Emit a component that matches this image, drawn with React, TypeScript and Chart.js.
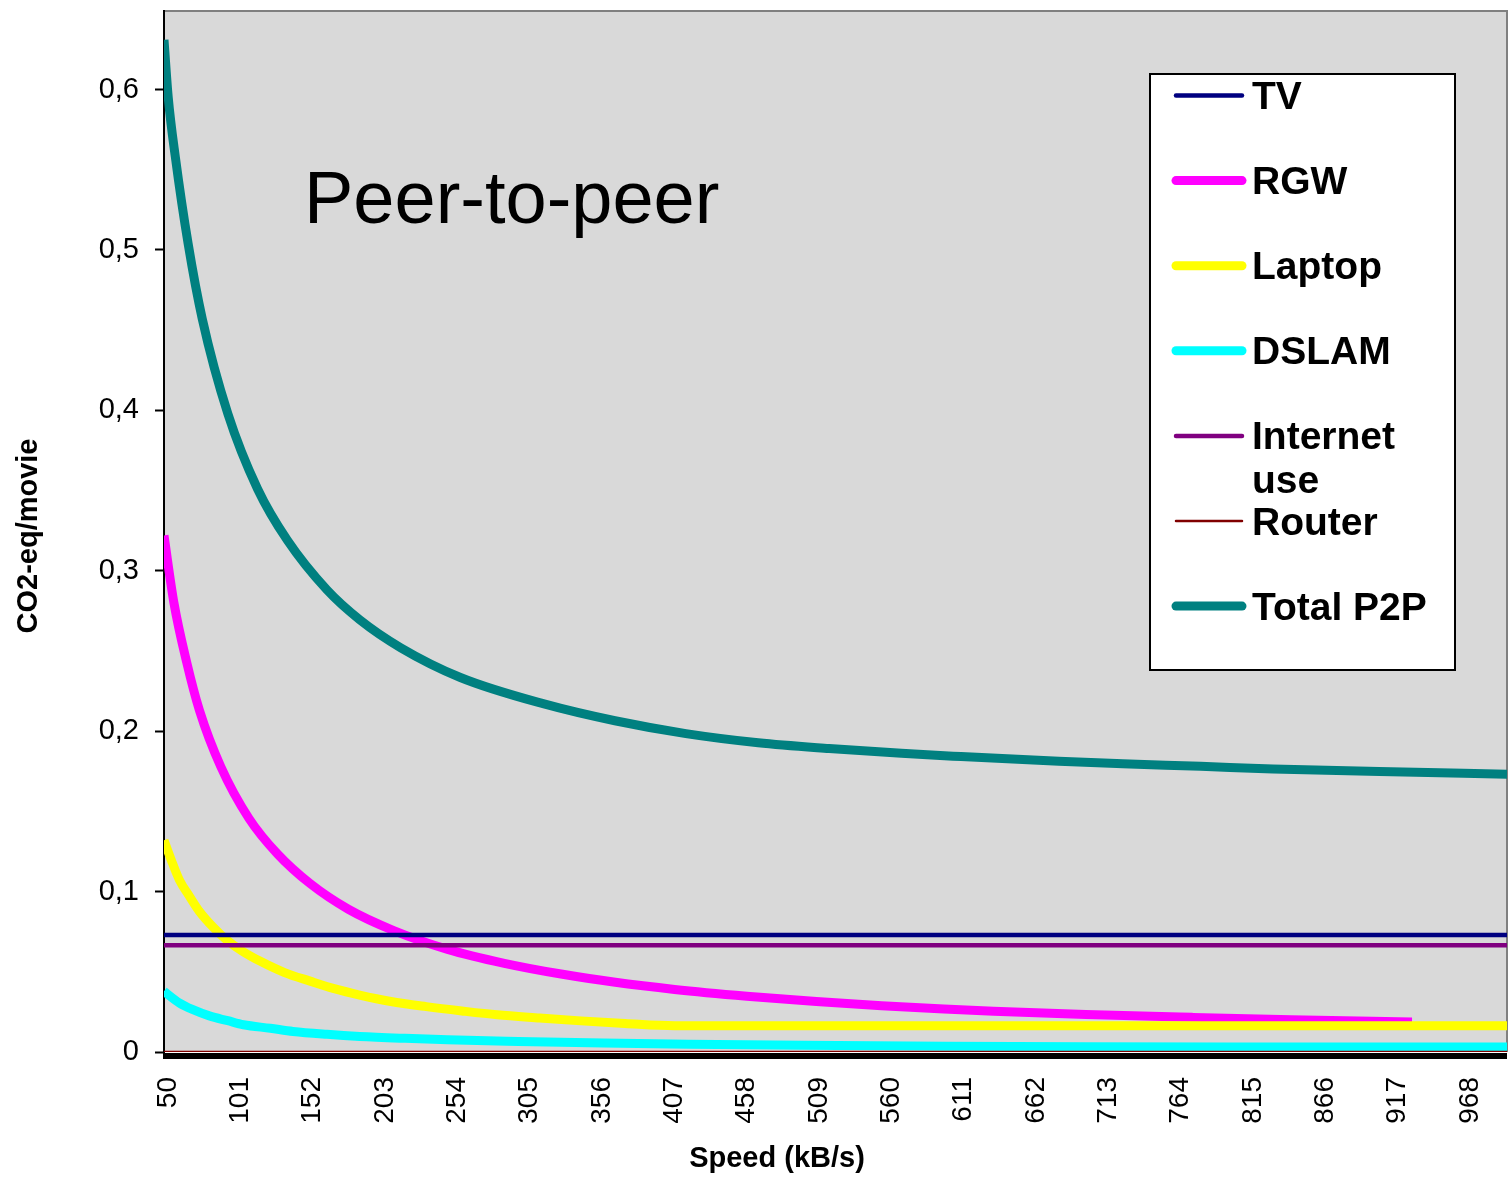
import React, { useEffect, useRef } from 'react';
import { Chart, registerables } from 'chart.js';

Chart.register(...registerables);

const FONT = '"Liberation Sans", Arial, Helvetica, sans-serif';

// ---- axis ticks ----
const speedTicks = [50, 101, 152, 203, 254, 305, 356, 407, 458, 509, 560, 611, 662, 713, 764, 815, 866, 917, 968];
const yTicks = [0, 0.1, 0.2, 0.3, 0.4, 0.5, 0.6];

// ---- series (speed in kB/s -> CO2-eq/movie) ----
const tvSpeeds = [50, 997];
const tvValues = [0.073, 0.073];

const rgwSpeeds = [50, 57, 66, 75, 90, 110, 130, 153, 180, 212, 250, 290, 330, 367, 410, 461, 510, 556, 600, 635, 700, 775, 845, 930];
const rgwValues = [0.322, 0.28, 0.243, 0.213, 0.178, 0.1455, 0.1235, 0.105, 0.089, 0.0757, 0.064, 0.0553, 0.0486, 0.0436, 0.039, 0.0348, 0.0315, 0.0289, 0.0268, 0.0254, 0.0234, 0.0216, 0.0201, 0.0187];

const laptopSpeeds = [50, 55, 61, 68, 75, 85, 94, 105, 118, 135, 153, 170, 188, 210, 235, 260, 285, 315, 344, 375, 410, 997];
const laptopValues = [0.132, 0.12, 0.107, 0.097, 0.0876, 0.0775, 0.07, 0.063, 0.0565, 0.0495, 0.0442, 0.0395, 0.0355, 0.0315, 0.0283, 0.0256, 0.0232, 0.0212, 0.0194, 0.0178, 0.0164, 0.0164];

const dslamSpeeds = [50, 61, 70, 82, 95, 106, 125, 141, 165, 188, 220, 250, 300, 360, 420, 500, 600, 700, 800, 997];
const dslamValues = [0.0378, 0.0305, 0.0265, 0.0225, 0.0195, 0.017, 0.0148, 0.0128, 0.011, 0.0097, 0.0085, 0.0076, 0.0066, 0.0056, 0.0049, 0.0042, 0.0036, 0.0032, 0.0031, 0.0031];

const internetSpeeds = [50, 997];
const internetValues = [0.0665, 0.0665];

const routerSpeeds = [50, 997];
const routerValues = [0, 0];

const totalSpeeds = [50, 53, 58, 67, 77, 95, 116, 137, 165, 188, 217, 259, 318, 368, 418, 469, 519, 570, 612, 681, 726, 781, 832, 907, 997];
const totalValues = [0.631, 0.595, 0.558, 0.504, 0.457, 0.398, 0.351, 0.319, 0.288, 0.2695, 0.252, 0.2335, 0.217, 0.2065, 0.1985, 0.1928, 0.1892, 0.1862, 0.1842, 0.1812, 0.1797, 0.1781, 0.1765, 0.1748, 0.1732];

const chartTitle = 'Peer-to-peer';
const xTitle = 'Speed (kB/s)';
const yTitle = 'CO2-eq/movie';

const pts = (xs: number[], ys: number[]) => xs.map((x, i) => ({ x, y: ys[i] }));

const zeroPadding = (s: any) => {
  s.paddingTop = 0;
  s.paddingBottom = 0;
  s.paddingLeft = 0;
  s.paddingRight = 0;
};

const decorPlugin = {
  id: 'decor',
  beforeDraw(chart: any) {
    const { ctx, chartArea: a } = chart;
    ctx.save();
    ctx.fillStyle = '#d9d9d9';
    ctx.fillRect(a.left, a.top, a.right - a.left, a.bottom - a.top);
    ctx.strokeStyle = '#808080';
    ctx.lineWidth = 2;
    ctx.beginPath();
    ctx.moveTo(a.left, a.top);
    ctx.lineTo(a.right, a.top);
    ctx.lineTo(a.right, a.bottom);
    ctx.stroke();
    ctx.restore();
  },
  beforeDatasetsDraw(chart: any) {
    const { ctx, chartArea: a } = chart;
    ctx.save();
    ctx.fillStyle = '#000';
    ctx.fillRect(a.left - 1, a.bottom + 1, a.right - a.left + 1, 6);
    ctx.restore();
  },
  afterDraw(chart: any) {
    const { ctx } = chart;
    ctx.save();
    // chart title inside plot
    ctx.fillStyle = '#000';
    ctx.font = `74px ${FONT}`;
    ctx.textAlign = 'left';
    ctx.textBaseline = 'alphabetic';
    ctx.fillText(chartTitle, 304, 223);

    // axis titles
    ctx.font = `bold 29px ${FONT}`;
    ctx.textAlign = 'center';
    ctx.fillText(xTitle, 777, 1167);
    ctx.save();
    ctx.translate(28.5, 536);
    ctx.rotate(-Math.PI / 2);
    ctx.textBaseline = 'middle';
    ctx.fillText(yTitle, 0, 0);
    ctx.restore();

    // legend
    const bx = 1150, by = 74, bw = 305, bh = 596;
    ctx.fillStyle = '#fff';
    ctx.fillRect(bx, by, bw, bh);
    ctx.strokeStyle = '#000';
    ctx.lineWidth = 2;
    ctx.strokeRect(bx, by, bw, bh);
    ctx.font = `bold 39px ${FONT}`;
    ctx.textAlign = 'left';
    ctx.textBaseline = 'alphabetic';
    chart.data.datasets.forEach((ds: any, i: number) => {
      const ly = 95.5 + i * 85.1;
      ctx.strokeStyle = ds.borderColor;
      ctx.lineWidth = ds.borderWidth;
      ctx.lineCap = 'round';
      ctx.beginPath();
      ctx.moveTo(1176, ly);
      ctx.lineTo(1242, ly);
      ctx.stroke();
      ctx.fillStyle = '#000';
      const words = String(ds.label).split(' ');
      const lines: string[] = [];
      let cur = '';
      words.forEach((w) => {
        const test = cur ? cur + ' ' + w : w;
        if (cur && ctx.measureText(test).width > 195) {
          lines.push(cur);
          cur = w;
        } else cur = test;
      });
      if (cur) lines.push(cur);
      lines.forEach((t, k) => ctx.fillText(t, 1252, ly + 13.5 + k * 44));
    });
    ctx.restore();
  },
};

export default function App() {
  const ref = useRef<HTMLCanvasElement | null>(null);

  useEffect(() => {
    document.body.style.margin = '0';
    const canvas = ref.current;
    if (!canvas) return;
    Chart.defaults.font.family = FONT;
    const chart = new Chart(canvas, {
      type: 'line',
      data: {
        datasets: [
          { label: 'TV', data: pts(tvSpeeds, tvValues), borderColor: '#000080', borderWidth: 4.5, order: 0 },
          { label: 'RGW', data: pts(rgwSpeeds, rgwValues), borderColor: '#FF00FF', borderWidth: 9, order: 5 },
          { label: 'Laptop', data: pts(laptopSpeeds, laptopValues), borderColor: '#FFFF00', borderWidth: 9, order: 3 },
          { label: 'DSLAM', data: pts(dslamSpeeds, dslamValues), borderColor: '#00FFFF', borderWidth: 9, order: 4 },
          { label: 'Internet use', data: pts(internetSpeeds, internetValues), borderColor: '#800080', borderWidth: 4.5, order: 1 },
          { label: 'Router', data: pts(routerSpeeds, routerValues), borderColor: '#800000', borderWidth: 2.5, order: 2 },
          { label: 'Total P2P', data: pts(totalSpeeds, totalValues), borderColor: '#008080', borderWidth: 9, order: 6 },
        ] as any,
      },
      options: {
        responsive: false,
        animation: false,
        layout: { padding: { top: 11, right: 2, left: 0, bottom: 0 } },
        elements: {
          point: { radius: 0, hoverRadius: 0 },
          line: { cubicInterpolationMode: 'monotone', borderJoinStyle: 'round', fill: false },
        },
        plugins: { legend: { display: false }, tooltip: { enabled: false } },
        scales: {
          x: {
            type: 'linear',
            position: 'bottom',
            min: 50,
            max: 997,
            border: { display: false },
            grid: { display: false, drawTicks: false },
            ticks: {
              autoSkip: false,
              minRotation: 90,
              maxRotation: 90,
              padding: 25,
              labelOffset: 4,
              color: '#000',
              font: { size: 28 },
              callback: (v: any) => String(v),
            },
            afterBuildTicks: (s: any) => {
              s.ticks = speedTicks.map((v) => ({ value: v }));
            },
            afterFit: (s: any) => {
              s.height = 130;
              zeroPadding(s);
            },
          },
          y: {
            type: 'linear',
            min: 0,
            max: 0.649,
            border: { display: true, color: '#000', width: 2 },
            grid: { display: true, drawOnChartArea: false, drawTicks: true, tickLength: 9, tickWidth: 2, tickColor: '#000', color: '#000' },
            ticks: {
              padding: 16,
              color: '#000',
              font: { size: 29 },
              callback: (v: any) => (v === 0 ? '0' : Number(v).toFixed(1).replace('.', ',')),
            },
            afterBuildTicks: (s: any) => {
              s.ticks = yTicks.map((v) => ({ value: v }));
            },
            afterFit: (s: any) => {
              s.width = 164;
              zeroPadding(s);
            },
          },
        },
      } as any,
      plugins: [decorPlugin],
    });
    return () => chart.destroy();
  }, []);

  return (
    <div style={{ position: 'absolute', left: 0, top: 0, width: 1509, height: 1182, background: '#fff' }}>
      <canvas ref={ref} width={1509} height={1182} style={{ display: 'block', width: 1509, height: 1182 }} />
    </div>
  );
}
